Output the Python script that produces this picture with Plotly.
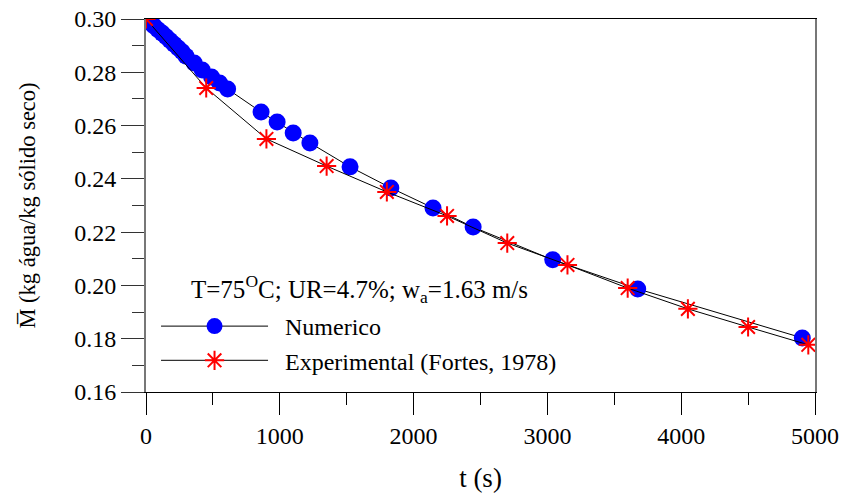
import plotly.graph_objects as go

# Numerical solution (Numerico)
t_num = [0, 30, 60, 90, 120, 150, 180, 210, 240, 270, 300, 360, 420, 490, 550, 610,
         860, 980, 1100, 1225, 1525, 1830, 2145, 2445, 3040, 3675, 4905]
m_num = [0.3000, 0.2987, 0.2974, 0.2960, 0.2947, 0.2933, 0.2919, 0.2905, 0.2891, 0.2877,
         0.2860, 0.2835, 0.2809, 0.2782, 0.2760, 0.2737,
         0.2651, 0.2613, 0.2572, 0.2535, 0.2445, 0.2366, 0.2291, 0.2219, 0.2096, 0.1987, 0.1803]

# Experimental data (Fortes, 1978)
t_exp = [0, 450, 900, 1350, 1800, 2250, 2700, 3150, 3600, 4050, 4500, 4950]
m_exp = [0.3000, 0.2741, 0.2550, 0.2448, 0.2351, 0.2261, 0.2159, 0.2077, 0.1990, 0.1912, 0.1844, 0.1777]

x_ticks = [0, 1000, 2000, 3000, 4000, 5000]
y_ticks = [0.16, 0.18, 0.20, 0.22, 0.24, 0.26, 0.28, 0.30]

FONT = "Liberation Serif"
FS = 24

fig = go.Figure()
fig.add_trace(go.Scatter(
    x=t_num, y=m_num, mode="lines+markers", name="\u00a0\u00a0Numerico",
    line=dict(color="black", width=1),
    marker=dict(symbol="circle", size=17, color="#0000ff", line=dict(width=0)),
))
fig.add_trace(go.Scatter(
    x=t_exp, y=m_exp, mode="lines+markers", name="\u00a0\u00a0Experimental (Fortes, 1978)",
    line=dict(color="black", width=1),
    marker=dict(symbol="asterisk-open", size=16, color="#ff0000",
                line=dict(color="#ff0000", width=2)),
))

fig.add_annotation(
    x=0.065, y=0.275, xref="paper", yref="paper", xanchor="left", yanchor="middle",
    text="T=75<sup>O</sup>C; UR=4.7%; w<sub>a</sub>=1.63 m/s",
    showarrow=False, font=dict(family=FONT, size=25, color="black"),
)

fig.update_layout(
    width=842, height=494,
    margin=dict(l=146, r=27, t=19, b=102),
    paper_bgcolor="white", plot_bgcolor="white",
    font=dict(family=FONT, size=FS, color="black"),
    showlegend=True,
    legend=dict(
        x=0.015, y=0.13, xanchor="left", yanchor="middle",
        bgcolor="rgba(0,0,0,0)", itemwidth=107,
        font=dict(family=FONT, size=24), tracegroupgap=0,
    ),
    xaxis=dict(
        range=[0, 5000], tickvals=x_ticks, ticktext=[str(v) for v in x_ticks],
        ticks="outside", ticklen=22, tickwidth=1, tickcolor="black",
        showline=True, linecolor="black", linewidth=1, mirror=True,
        showgrid=False, zeroline=False, automargin=False,
        minor=dict(dtick=500, ticks="outside", ticklen=12, tickcolor="black", showgrid=False),
        title=dict(text="t (s)", font=dict(family=FONT, size=27), standoff=20),
        tickfont=dict(family=FONT, size=FS),
    ),
    yaxis=dict(
        range=[0.16, 0.30], tickvals=y_ticks, ticktext=["%.2f" % v for v in y_ticks],
        ticks="outside", ticklen=23, tickwidth=1, tickcolor="#333",
        showline=True, linecolor="#777", linewidth=2, mirror=True,
        showgrid=False, zeroline=False, automargin=False,
        minor=dict(dtick=0.01, ticks="outside", ticklen=12, tickcolor="#333", showgrid=False),
        title=dict(text="M\u0305 (kg água/kg sólido seco)", font=dict(family=FONT, size=22.5), standoff=32),
        tickfont=dict(family=FONT, size=FS),
    ),
)

fig.write_html("out.html")
